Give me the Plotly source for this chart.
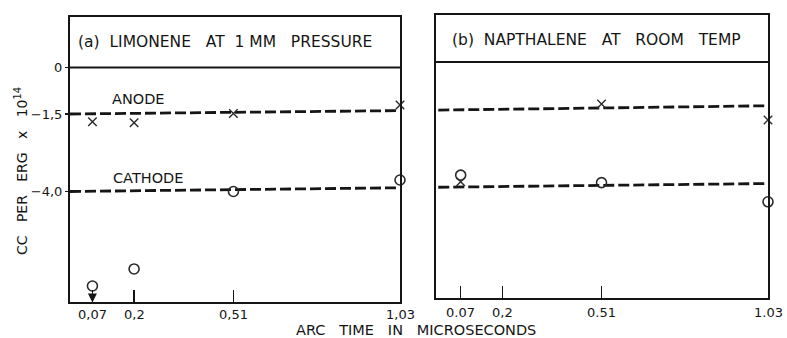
import plotly.graph_objects as go

# ---- data ----
arc_time = [0.07, 0.2, 0.51, 1.03]

# (a) Limonene at 1 mm pressure
lim_anode = [-1.75, -1.78, -1.48, -1.21]
lim_cathode = [-7.05, -6.5, -4.0, -3.63]
lim_anode_fit_x = [0.0, 1.03]
lim_anode_fit_y = [-1.5, -1.39]
lim_cathode_fit_x = [0.0, 1.03]
lim_cathode_fit_y = [-4.0, -3.88]

# (b) Napthalene at room temp
nap_anode_x = [0.07, 0.51, 1.03]
nap_anode = [-3.86, -1.35, -1.87]
nap_cathode_x = [0.07, 0.51, 1.03]
nap_cathode = [-3.65, -3.89, -4.51]
nap_anode_fit_x = [0.0, 1.03]
nap_anode_fit_y = [-1.55, -1.41]
nap_cathode_fit_x = [0.0, 1.03]
nap_cathode_fit_y = [-4.04, -3.92]

y_tick_vals = [0, -1.5, -4.0]
y_tick_text = ["0", "\u22121,5", "\u22124,0"]
x_tick_vals = [0.07, 0.2, 0.51, 1.03]
x_tick_text_a = ["0,07", "0,2", "0,51", "1,03"]
x_tick_text_b = ["0.07", "0,2", "0.51", "1.03"]

FONT = "DejaVu Sans"
INK = "#151515"
MARK = "#2a2a2a"

W, H = 787, 338
ML, MR, MT, MB = 70, 19, 15, 35
PW, PH = W - ML - MR, H - MT - MB


def px(xw, yw):
    """window pixel -> paper fraction"""
    return (xw - ML) / PW, (H - MB - yw) / PH


def py(yw):
    return px(0, yw)[1]


fig = go.Figure()

dash_line = dict(color=INK, width=2.8, dash="11px,4px")
x_marker = dict(symbol="x-thin", size=8.5, line=dict(color=MARK, width=1.4), color=MARK)
o_marker = dict(symbol="circle-open", size=10, line=dict(color=MARK, width=1.6), color=MARK)

# panel (a)
fig.add_trace(go.Scatter(x=lim_anode_fit_x, y=lim_anode_fit_y, mode="lines", line=dash_line, xaxis="x", yaxis="y"))
fig.add_trace(go.Scatter(x=lim_cathode_fit_x, y=lim_cathode_fit_y, mode="lines", line=dash_line, xaxis="x", yaxis="y"))
fig.add_trace(go.Scatter(x=arc_time, y=lim_anode, mode="markers", marker=x_marker, xaxis="x", yaxis="y", cliponaxis=False))
fig.add_trace(go.Scatter(x=arc_time, y=lim_cathode, mode="markers", marker=o_marker, xaxis="x", yaxis="y", cliponaxis=False))

# panel (b)
fig.add_trace(go.Scatter(x=nap_anode_fit_x, y=nap_anode_fit_y, mode="lines", line=dash_line, xaxis="x2", yaxis="y2"))
fig.add_trace(go.Scatter(x=nap_cathode_fit_x, y=nap_cathode_fit_y, mode="lines", line=dash_line, xaxis="x2", yaxis="y2"))
fig.add_trace(go.Scatter(x=nap_anode_x, y=nap_anode, mode="markers", marker=x_marker, xaxis="x2", yaxis="y2", cliponaxis=False))
fig.add_trace(go.Scatter(x=nap_cathode_x, y=nap_cathode, mode="markers", marker=o_marker, xaxis="x2", yaxis="y2", cliponaxis=False))

axis_common = dict(showline=True, linecolor=INK, linewidth=2, mirror=True, showgrid=False, zeroline=False)

fig.update_layout(
    width=W, height=H,
    margin=dict(l=ML, r=MR, t=MT, b=MB),
    paper_bgcolor="white", plot_bgcolor="white",
    showlegend=False,
    hovermode=False,
    font=dict(family=FONT, color=INK, size=12),
    xaxis=dict(domain=[0, 0.4728], range=[0, 1.03], tickmode="array", tickvals=x_tick_vals,
               showticklabels=False, ticks="inside", ticklen=12, tickwidth=1.5, tickcolor=INK,
               anchor="y", **axis_common),
    yaxis=dict(domain=[0.002, 0.993], range=[-7.58, 1.63], tickmode="array", tickvals=y_tick_vals,
               ticktext=y_tick_text, ticks="outside", ticklen=3, tickwidth=1.5, tickcolor=INK,
               tickfont=dict(size=13, family=FONT, color=INK), anchor="x", **axis_common),
    xaxis2=dict(domain=[0.5244, 1], range=[-0.007, 1.03], tickmode="array", tickvals=x_tick_vals,
                showticklabels=False, ticks="inside", ticklen=12, tickwidth=1.5, tickcolor=INK,
                anchor="y2", **axis_common),
    yaxis2=dict(domain=[0.019, 1.0], range=[-7.6, 1.52], showticklabels=False, ticks="",
                anchor="x2", **axis_common),
)

# title bands (horizontal line at y = 0)
fig.add_shape(type="line", xref="x domain", yref="y", x0=0, x1=1, y0=0, y1=0, line=dict(color=INK, width=2))
fig.add_shape(type="line", xref="x2 domain", yref="y2", x0=0, x1=1, y0=0, y1=0, line=dict(color=INK, width=2))

ann = []
ann.append(dict(x=0.484, y=0.83, xref="x", yref="y", text="(a)  LIMONENE   AT  1 MM   PRESSURE",
                showarrow=False, font=dict(size=15.5, family=FONT, color=INK)))
ann.append(dict(x=0.495, y=0.71, xref="x2", yref="y2", text="(b)  NAPTHALENE   AT   ROOM   TEMP",
                showarrow=False, font=dict(size=15.5, family=FONT, color=INK)))
ann.append(dict(x=0.215, y=-1.02, xref="x", yref="y", text="ANODE", showarrow=False,
                font=dict(size=14.5, family=FONT, color=INK)))
ann.append(dict(x=0.243, y=-3.56, xref="x", yref="y", text="CATHODE", showarrow=False,
                font=dict(size=14.5, family=FONT, color=INK)))
# arrow below the lowest cathode point
ann.append(dict(x=0.07, y=-7.58, xref="x", yref="y", ax=0.07, ay=-7.27, axref="x", ayref="y",
                text="", showarrow=True, arrowhead=2, arrowsize=1.2, arrowwidth=1.5, arrowcolor=INK))

# x tick labels
for v, t in zip(x_tick_vals, x_tick_text_a):
    ann.append(dict(x=v, y=py(314), xref="x", yref="paper", text=t, showarrow=False,
                    xanchor="center", yanchor="middle", font=dict(size=13, family=FONT, color=INK)))
for v, t in zip(x_tick_vals, x_tick_text_b):
    ann.append(dict(x=v, y=py(312), xref="x2", yref="paper", text=t, showarrow=False,
                    xanchor="center", yanchor="middle", font=dict(size=13, family=FONT, color=INK)))

# axis titles
yx, yy = px(21, 171)
ann.append(dict(x=yx, y=yy, xref="paper", yref="paper", text="CC   PER   ERG   x   10<sup>14</sup>",
                showarrow=False, textangle=-90, xanchor="center", yanchor="middle",
                font=dict(size=14, family=FONT, color=INK)))
tx, ty = px(416, 330)
ann.append(dict(x=tx, y=ty, xref="paper", yref="paper", text="ARC   TIME   IN   MICROSECONDS",
                showarrow=False, xanchor="center", yanchor="middle",
                font=dict(size=14.5, family=FONT, color=INK)))
fig.update_layout(annotations=ann)

fig.write_html("out.html", config={"displayModeBar": False, "staticPlot": True},
               post_script="document.body.style.margin='0';")
